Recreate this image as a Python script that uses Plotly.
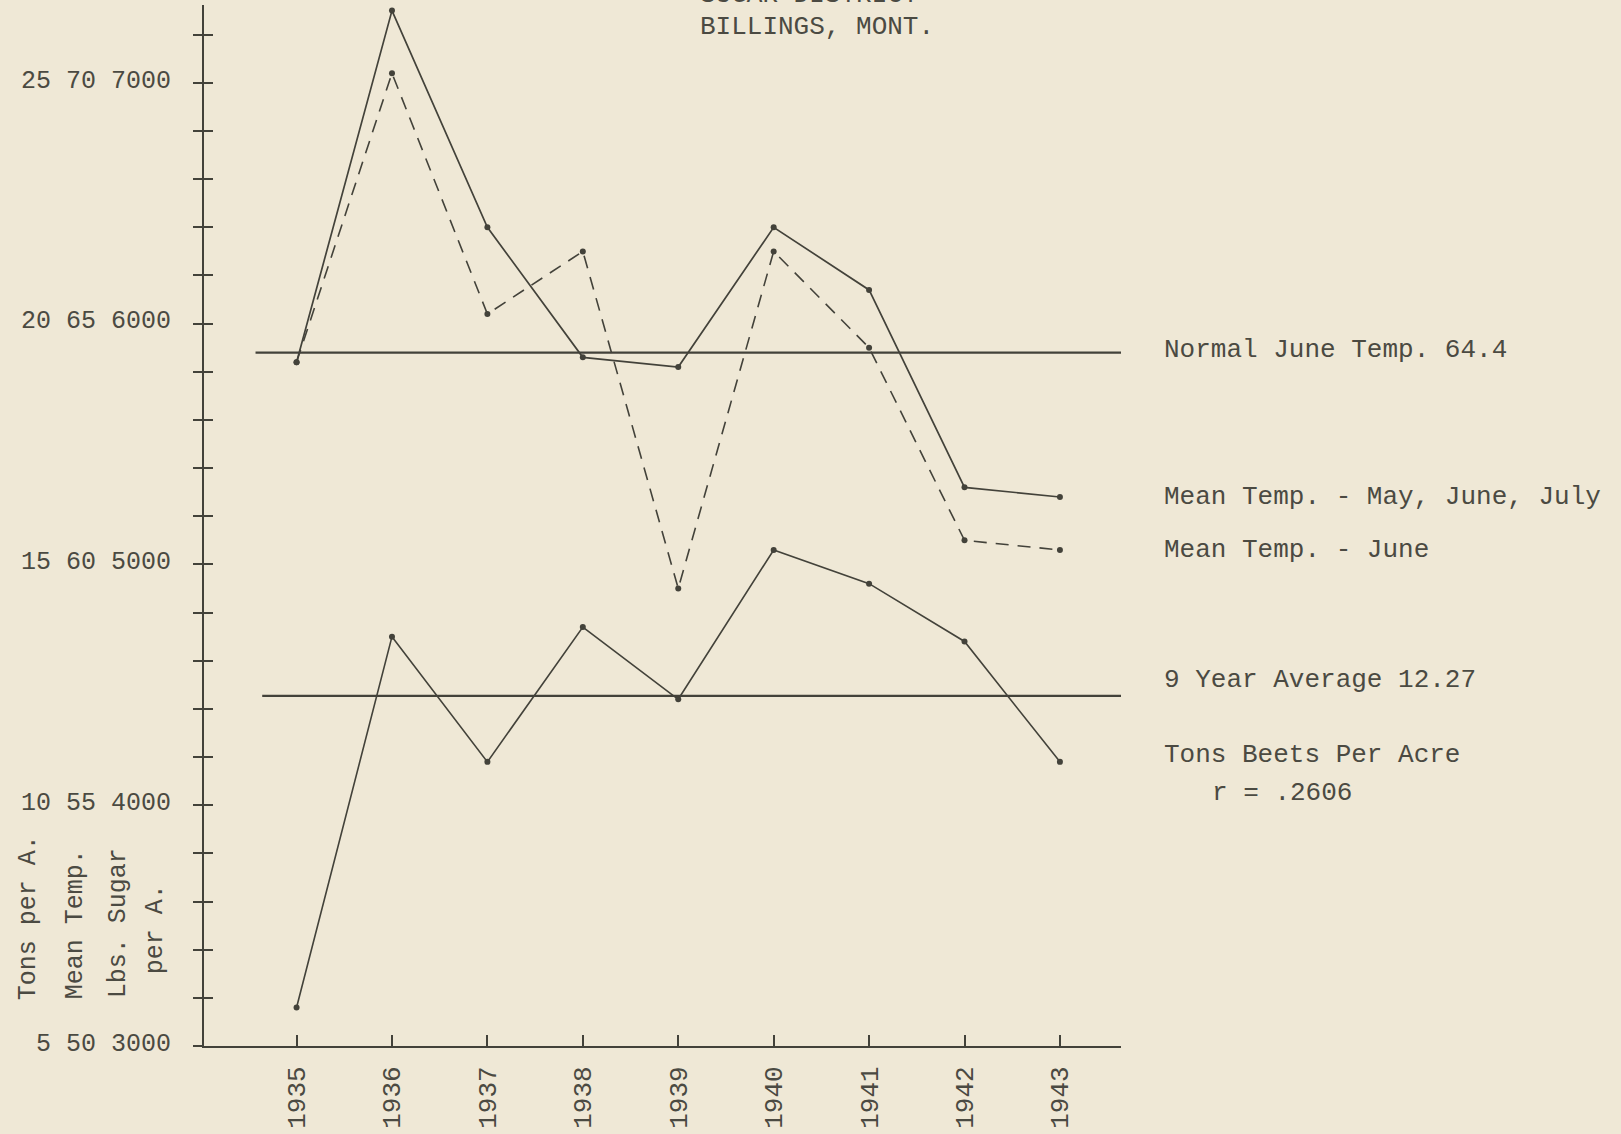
import plotly.graph_objects as go

# ---------------- data ----------------
years = [1935, 1936, 1937, 1938, 1939, 1940, 1941, 1942, 1943]
year_labels = ["1935", "1936", "1937", "1938", "1939", "1940", "1941", "1942", "1943"]

mean_temp_may_jun_jul = [64.2, 71.5, 67.0, 64.3, 64.1, 67.0, 65.7, 61.6, 61.4]
mean_temp_june = [64.2, 70.2, 65.2, 66.5, 59.5, 66.5, 64.5, 60.5, 60.3]
tons_beets_per_acre = [5.8, 13.5, 10.9, 13.7, 12.2, 15.3, 14.6, 13.4, 10.9]

normal_june_temp = 64.4
nine_year_avg_tons = 12.27

tons_ticks = [5, 10, 15, 20, 25]
temp_ticks = [50, 55, 60, 65, 70]
sugar_ticks = [3000, 4000, 5000, 6000, 7000]

# ---------------- style ----------------
W, H = 1621, 1134
L, R, T, B = 204, 1121, 5, 1048          # plot area in pixels
PAPER = "#efe8d6"
INK = "#43423a"
TEXT = "#4b4a42"
FONT = "Liberation Mono"
FS = 26

tons_range = [5, 5 + (B - T) / 48.25]
temp_offset = 45                           # temp axis = tons axis + 45
temp_range = [tons_range[0] + temp_offset, tons_range[1] + temp_offset]
x_range = [1934.03, 1943.64]


def px(xp):
    return (xp - L) / (R - L)


def py(yp):
    return (B - yp) / (B - T)


fig = go.Figure()

# horizontal reference lines
fig.add_trace(go.Scatter(x=[1934.57, x_range[1]], y=[normal_june_temp] * 2, yaxis="y2",
                         mode="lines", line=dict(color=INK, width=2.2), hoverinfo="skip"))
fig.add_trace(go.Scatter(x=[1934.64, x_range[1]], y=[nine_year_avg_tons] * 2, yaxis="y",
                         mode="lines", line=dict(color=INK, width=2.2), hoverinfo="skip"))

# series
fig.add_trace(go.Scatter(x=years, y=mean_temp_may_jun_jul, yaxis="y2", mode="lines+markers",
                         name="Mean Temp. - May, June, July",
                         line=dict(color=INK, width=1.7), marker=dict(color=INK, size=6)))
fig.add_trace(go.Scatter(x=years, y=mean_temp_june, yaxis="y2", mode="lines+markers",
                         name="Mean Temp. - June",
                         line=dict(color=INK, width=1.6, dash="13px,9px"),
                         marker=dict(color=INK, size=6)))
fig.add_trace(go.Scatter(x=years, y=tons_beets_per_acre, yaxis="y", mode="lines+markers",
                         name="Tons Beets Per Acre",
                         line=dict(color=INK, width=1.6), marker=dict(color=INK, size=6)))

tick_vals = list(range(5, 27))
tick_text = []
for v in tick_vals:
    if v in tons_ticks:
        i = tons_ticks.index(v)
        tick_text.append(f"{tons_ticks[i]} {temp_ticks[i]} {sugar_ticks[i]}")
    else:
        tick_text.append("")

annotations = []


def ann(text, xp, yp, xanchor="left", angle=0, size=FS):
    annotations.append(dict(text=text, x=px(xp), y=py(yp), xref="paper", yref="paper",
                            xanchor=xanchor, yanchor="middle", showarrow=False,
                            textangle=angle, font=dict(family=FONT, size=size, color=TEXT)))


# right side labels
ann("Normal June Temp. 64.4", 1162, 351)
ann("Mean Temp. - May, June, July", 1162, 498)
ann("Mean Temp. - June", 1162, 551)
ann("9 Year Average 12.27", 1162, 681)
ann("Tons Beets Per Acre", 1162, 756)
ann("r = .2606", 1210, 795)

# title (top line is cut off by the page edge in the original)
ann("SUGAR DISTRICT", 698, -5)
ann("BILLINGS, MONT.", 698, 27)

# rotated axis titles
ann("Tons per A.", 28, 920, xanchor="center", angle=-90, size=25)
ann("Mean Temp.", 75, 926, xanchor="center", angle=-90, size=25)
ann("Lbs. Sugar", 118, 925, xanchor="center", angle=-90, size=25)
ann("per A.", 155, 931, xanchor="center", angle=-90, size=25)

fig.update_layout(
    width=W, height=H,
    margin=dict(l=L, r=W - R, t=T, b=H - B, pad=0),
    paper_bgcolor=PAPER, plot_bgcolor=PAPER,
    showlegend=False,
    font=dict(family=FONT, size=FS, color=TEXT),
    xaxis=dict(range=x_range, tickmode="array", tickvals=years, ticktext=year_labels,
               tickangle=-90, ticks="inside", ticklen=11, tickwidth=1.5, tickcolor=INK,
               showline=True, linecolor=INK, linewidth=2, showgrid=False, zeroline=False,
               ticklabelstandoff=8, tickfont=dict(family=FONT, size=FS, color=TEXT)),
    yaxis=dict(range=tons_range, tickmode="array", tickvals=tick_vals, ticktext=tick_text,
               ticks="outside", ticklen=9, tickwidth=1.6, tickcolor=INK,
               showline=True, linecolor=INK, linewidth=2, showgrid=False, zeroline=False,
               ticklabelstandoff=17, ticklabelshift=-4,
               tickfont=dict(family=FONT, size=25, color=TEXT)),
    yaxis2=dict(range=temp_range, overlaying="y", side="left", tickmode="linear", dtick=1,
                tick0=50, ticks="inside", ticklen=9, tickwidth=1.6, tickcolor=INK,
                showticklabels=False, showline=False, showgrid=False, zeroline=False),
    annotations=annotations,
)

fig.write_html("out.html", config={"displayModeBar": False},
               post_script="document.body.style.margin='0';")
